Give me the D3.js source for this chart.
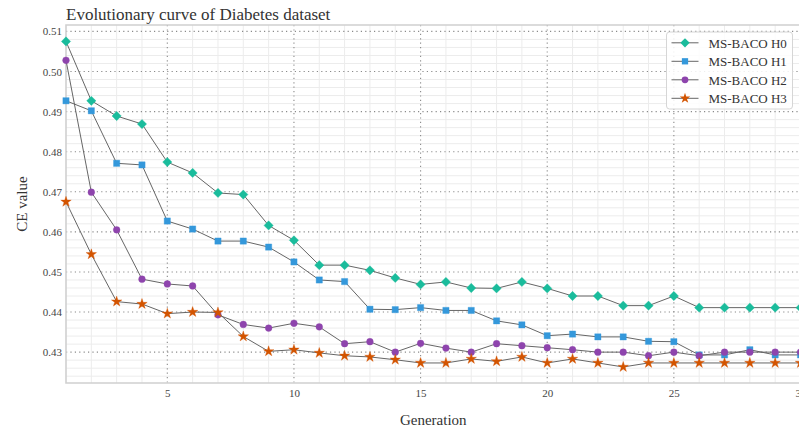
<!DOCTYPE html>
<html>
<head>
<meta charset="utf-8">
<script src="https://cdn.jsdelivr.net/npm/d3@7"></script>
<style>
  html, body { margin: 0; padding: 0; background: #fff; }
  svg { display: block; font-family: "Liberation Serif", "DejaVu Serif", serif; }
</style>
</head>
<body>
<svg id="chart" width="799" height="432"></svg>
<script>
// Generations 1..30
const generations = d3.range(1, 31);

// CE value per generation for each heuristic variant
const h0 = [0.5075, 0.4927, 0.4889, 0.4869, 0.4774, 0.4747, 0.4697, 0.4693, 0.4616, 0.4579,
            0.4517, 0.4517, 0.4504, 0.4485, 0.4469, 0.4475, 0.4460, 0.4459, 0.4475, 0.4459,
            0.4440, 0.4440, 0.4416, 0.4416, 0.4440, 0.4411, 0.4411, 0.4411, 0.4411, 0.4411];
const h1 = [0.4927, 0.4902, 0.4771, 0.4767, 0.4627, 0.4607, 0.4577, 0.4577, 0.4562, 0.4525,
            0.4480, 0.4476, 0.4407, 0.4406, 0.4411, 0.4404, 0.4404, 0.4378, 0.4368, 0.4341,
            0.4345, 0.4338, 0.4338, 0.4327, 0.4326, 0.4293, 0.4293, 0.4306, 0.4293, 0.4293];
const h2 = [0.5028, 0.4699, 0.4605, 0.4482, 0.4470, 0.4465, 0.4393, 0.4369, 0.4360, 0.4372,
            0.4363, 0.4321, 0.4326, 0.4300, 0.4322, 0.4310, 0.4300, 0.4321, 0.4316, 0.4311,
            0.4306, 0.4300, 0.4300, 0.4291, 0.4300, 0.4291, 0.4300, 0.4300, 0.4300, 0.4300];
const h3 = [0.4675, 0.4544, 0.4426, 0.4420, 0.4396, 0.4400, 0.4399, 0.4339, 0.4302, 0.4306,
            0.4298, 0.4291, 0.4288, 0.4281, 0.4273, 0.4273, 0.4283, 0.4277, 0.4288, 0.4273,
            0.4283, 0.4273, 0.4263, 0.4273, 0.4273, 0.4273, 0.4273, 0.4273, 0.4273, 0.4273];

const seriesNames = ["MS-BACO H0", "MS-BACO H1", "MS-BACO H2", "MS-BACO H3"];
const seriesColors = ["#1abc9c", "#3498db", "#8e44ad", "#d35400"];
const seriesSymbols = [d3.symbolDiamond2, d3.symbolSquare2, d3.symbolCircle, d3.symbolStar];
const seriesValues = [h0, h1, h2, h3];

const yTicks = [0.43, 0.44, 0.45, 0.46, 0.47, 0.48, 0.49, 0.50, 0.51];
const xTicks = [5, 10, 15, 20, 25, 30];

const chartTitle = "Evolutionary curve of Diabetes dataset";
const xLabel = "Generation";
const yLabel = "CE value";

const svg = d3.select("#chart");
const plotL = 66, plotR = 800.5, plotT = 25, plotB = 383;

const x = d3.scaleLinear().domain([1, 30]).range([plotL, plotR]);
const y = d3.scaleLinear().domain([0.4223, 0.5116]).range([plotB, plotT]);

// minor grid
const minorY = d3.range(0.424, 0.5116, 0.002).filter(v => Math.abs(Math.round(v * 100) - v * 100) > 1e-6);
svg.append("g").selectAll("line").data(minorY).join("line")
  .attr("x1", plotL).attr("x2", plotR)
  .attr("y1", d => y(d)).attr("y2", d => y(d))
  .attr("stroke", "#ececec").attr("stroke-width", 1);
svg.append("g").selectAll("line").data(generations.filter(g => g % 5 !== 0 && g !== 1)).join("line")
  .attr("x1", d => x(d)).attr("x2", d => x(d))
  .attr("y1", plotT).attr("y2", plotB)
  .attr("stroke", "#ececec").attr("stroke-width", 1);

// major dotted grid
svg.append("g").selectAll("line").data(yTicks).join("line")
  .attr("x1", plotL).attr("x2", plotR)
  .attr("y1", d => y(d)).attr("y2", d => y(d))
  .attr("stroke", "#8a8a8a").attr("stroke-width", 1.1).attr("stroke-dasharray", "1.2,3.2");
svg.append("g").selectAll("line").data(xTicks).join("line")
  .attr("x1", d => x(d)).attr("x2", d => x(d))
  .attr("y1", plotT).attr("y2", plotB)
  .attr("stroke", "#8a8a8a").attr("stroke-width", 1.1).attr("stroke-dasharray", "1.2,3.2");

// frame
svg.append("path")
  .attr("d", `M${plotR},${plotT}H${plotL}V${plotB}H${plotR}`)
  .attr("fill", "none").attr("stroke", "#d0d0d0").attr("stroke-width", 1.6);

// axes (labels only)
const yAxis = d3.axisLeft(y).tickValues(yTicks).tickFormat(d3.format(".2f")).tickSize(0).tickPadding(4);
const gy = svg.append("g").attr("transform", `translate(${plotL},0)`).call(yAxis);
gy.select(".domain").remove();
gy.selectAll("text").attr("font-family", "Liberation Serif").attr("font-size", 11).attr("fill", "#444");

const xAxis = d3.axisBottom(x).tickValues(xTicks).tickFormat(d3.format("d")).tickSize(0).tickPadding(6);
const gx = svg.append("g").attr("transform", `translate(0,${plotB})`).call(xAxis);
gx.select(".domain").remove();
gx.selectAll("text").attr("font-family", "Liberation Serif").attr("font-size", 11).attr("fill", "#444");

// title and axis labels
svg.append("text").attr("x", plotL).attr("y", 20)
  .attr("font-size", 17).attr("fill", "#333").text(chartTitle);
svg.append("text").attr("x", (plotL + plotR) / 2).attr("y", 425)
  .attr("text-anchor", "middle").attr("font-size", 15).attr("fill", "#333").text(xLabel);
svg.append("text").attr("transform", `translate(27,${(plotT + plotB) / 2}) rotate(-90)`)
  .attr("text-anchor", "middle").attr("font-size", 15).attr("fill", "#333").text(yLabel);

// series
const line = d3.line().x((d, i) => x(generations[i])).y(d => y(d));
const symbolSizes = [55, 50, 36, 34];

seriesValues.forEach((vals, si) => {
  const g = svg.append("g");
  g.append("path").datum(vals).attr("d", line)
    .attr("fill", "none").attr("stroke", "#666").attr("stroke-width", 1);
  g.selectAll("path.pt").data(vals).join("path").attr("class", "pt")
    .attr("transform", (d, i) => `translate(${x(generations[i])},${y(d)})`)
    .attr("d", d3.symbol(seriesSymbols[si], symbolSizes[si]))
    .attr("fill", seriesColors[si])
    .attr("stroke", seriesColors[si]).attr("stroke-opacity", 0.35).attr("stroke-width", 1);
});

// legend
const lg = svg.append("g").attr("transform", "translate(666.5,32)");
lg.append("rect").attr("width", 126).attr("height", 77).attr("rx", 3)
  .attr("fill", "#fff").attr("fill-opacity", 0.85).attr("stroke", "#d6d6d6");
seriesNames.forEach((name, i) => {
  const ry = 10.8 + i * 18.5;
  lg.append("line").attr("x1", 5).attr("x2", 32).attr("y1", ry).attr("y2", ry)
    .attr("stroke", "#666").attr("stroke-width", 1);
  lg.append("path").attr("transform", `translate(18.5,${ry})`)
    .attr("d", d3.symbol(seriesSymbols[i], symbolSizes[i]))
    .attr("fill", seriesColors[i]);
  lg.append("text").attr("x", 42).attr("y", ry + 5)
    .attr("font-size", 13).attr("fill", "#333").text(name);
});
</script>
</body>
</html>
